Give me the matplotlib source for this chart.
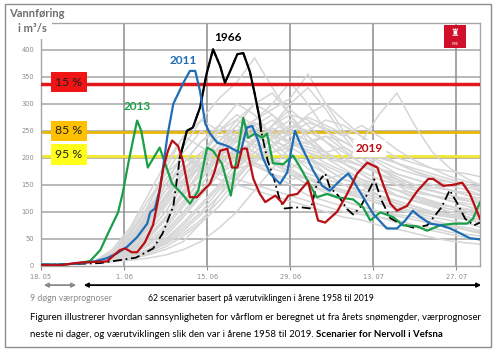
import numpy as np
import matplotlib
matplotlib.use('Agg')
import matplotlib.pyplot as plt
from matplotlib.patches import Rectangle, FancyArrowPatch

# days counted from 18.05
tick_days = [0, 14, 28, 42, 56, 70]
tick_labels = ['18. 05', '1. 06', '15. 06', '29. 06', '13. 07', '27. 07']
y_ticks = [0, 50, 100, 150, 200, 250, 300, 350, 400]

# probability levels
levels = [337, 247, 203]
level_labels = ['15 %', '85 %', '95 %']

# 9 day weather forecast (shared by all scenarios)
fc_days = [0, 3, 6, 9]
fc_vals = [2, 2, 4, 8]

# scenario days and a subset of the grey scenario curves
sc_days = [12, 15, 18, 21, 24, 27, 30, 33, 36, 39, 42, 45, 48, 51, 54, 57, 60, 63, 66, 69, 72, 74]
scenarios = [
    [20, 45, 90, 150, 210, 250, 230, 260, 240, 200, 170, 150, 140, 120, 110, 100, 95, 90, 80, 75, 70, 65],
    [12, 25, 50, 90, 140, 190, 230, 270, 300, 280, 240, 200, 180, 160, 150, 130, 120, 110, 100, 95, 90, 85],
    [30, 70, 130, 190, 240, 220, 200, 180, 190, 170, 150, 130, 120, 110, 100, 90, 85, 75, 70, 62, 58, 55],
    [10, 18, 30, 55, 90, 130, 170, 200, 230, 250, 270, 240, 210, 190, 170, 150, 140, 125, 115, 110, 100, 95],
    [15, 35, 70, 120, 170, 200, 260, 300, 280, 240, 210, 180, 160, 150, 140, 130, 115, 105, 95, 90, 85, 80],
    [8, 12, 20, 30, 45, 80, 130, 180, 220, 260, 300, 330, 290, 240, 200, 170, 150, 130, 120, 110, 100, 90],
    [25, 60, 110, 170, 220, 270, 310, 340, 385, 330, 280, 230, 200, 180, 160, 140, 130, 120, 110, 100, 95, 90],
    [18, 40, 80, 130, 180, 210, 190, 220, 250, 230, 200, 190, 170, 150, 140, 150, 130, 120, 110, 100, 90, 85],
    [10, 15, 25, 40, 60, 85, 120, 160, 200, 240, 260, 250, 230, 210, 190, 180, 170, 160, 150, 140, 130, 120],
    [20, 50, 100, 160, 200, 190, 170, 160, 150, 140, 130, 120, 110, 100, 95, 90, 80, 72, 65, 58, 52, 48],
    [12, 30, 60, 100, 150, 200, 250, 280, 260, 230, 220, 200, 180, 160, 150, 140, 130, 120, 115, 110, 105, 100],
    [15, 30, 55, 90, 130, 170, 200, 230, 260, 280, 250, 230, 210, 220, 200, 180, 160, 140, 130, 120, 110, 105],
    [8, 14, 22, 35, 55, 80, 110, 150, 190, 220, 250, 280, 300, 270, 240, 210, 190, 180, 170, 160, 150, 140],
    [22, 55, 110, 180, 240, 270, 250, 230, 210, 190, 170, 150, 135, 120, 110, 100, 92, 85, 78, 72, 66, 62],
    [10, 20, 40, 70, 110, 150, 190, 210, 230, 250, 230, 210, 200, 190, 230, 280, 320, 260, 210, 180, 160, 150],
    [14, 28, 50, 85, 130, 180, 220, 250, 270, 290, 310, 355, 300, 250, 210, 180, 160, 140, 130, 120, 110, 100],
    [18, 45, 95, 150, 190, 230, 260, 240, 220, 200, 180, 160, 150, 140, 130, 120, 110, 100, 95, 90, 85, 80],
    [9, 16, 28, 45, 70, 100, 140, 170, 200, 210, 220, 230, 240, 230, 210, 190, 170, 160, 150, 140, 130, 125],
    [16, 38, 75, 125, 175, 210, 240, 230, 250, 270, 240, 200, 170, 150, 135, 125, 115, 105, 100, 95, 90, 85],
    [12, 22, 40, 65, 100, 140, 180, 220, 250, 240, 230, 220, 210, 190, 170, 150, 140, 135, 130, 125, 120, 115],
    [20, 48, 95, 140, 170, 190, 200, 210, 200, 190, 175, 160, 145, 135, 125, 115, 105, 95, 85, 75, 65, 60],
    [10, 18, 30, 50, 80, 115, 150, 190, 230, 260, 280, 270, 250, 230, 210, 195, 180, 170, 160, 155, 150, 145],
    [14, 30, 60, 100, 150, 190, 220, 260, 300, 320, 280, 240, 210, 190, 175, 160, 150, 140, 130, 120, 115, 110],
    [25, 65, 120, 170, 200, 180, 160, 150, 140, 130, 120, 110, 100, 90, 85, 75, 68, 60, 52, 46, 42, 40],
    [8, 10, 14, 20, 30, 45, 70, 100, 140, 180, 220, 250, 270, 260, 240, 220, 200, 190, 180, 175, 170, 165],
    [18, 42, 85, 140, 190, 230, 250, 270, 250, 220, 190, 170, 160, 170, 150, 130, 120, 110, 100, 95, 90, 85],
    [11, 24, 45, 75, 115, 160, 200, 240, 270, 300, 340, 300, 250, 220, 200, 180, 165, 150, 140, 130, 120, 115],
    [16, 36, 70, 115, 160, 200, 230, 210, 190, 180, 170, 160, 150, 140, 135, 125, 115, 105, 98, 92, 86, 80],
    [12, 26, 50, 85, 120, 160, 210, 250, 230, 260, 290, 260, 230, 200, 185, 170, 160, 150, 145, 140, 135, 130],
    [20, 44, 85, 130, 160, 180, 170, 190, 210, 195, 180, 200, 185, 170, 155, 140, 130, 120, 112, 105, 100, 95],
    [9, 15, 26, 42, 65, 95, 130, 165, 195, 225, 245, 265, 255, 240, 260, 240, 215, 195, 180, 165, 155, 150],
    [15, 34, 66, 110, 155, 185, 215, 240, 225, 210, 230, 210, 190, 175, 160, 150, 140, 128, 118, 110, 104, 98],
    [11, 20, 36, 60, 95, 135, 175, 205, 235, 255, 240, 225, 240, 215, 190, 170, 155, 145, 138, 130, 124, 118],
    [24, 58, 105, 150, 180, 200, 215, 200, 185, 170, 160, 165, 150, 138, 126, 116, 106, 98, 90, 84, 78, 72],
    [13, 27, 52, 88, 135, 175, 205, 235, 265, 245, 225, 215, 205, 195, 185, 200, 190, 175, 160, 148, 140, 132],
    [10, 17, 30, 48, 75, 110, 145, 180, 210, 235, 255, 275, 260, 245, 225, 205, 190, 175, 165, 155, 145, 138],
]

# highlighted years
y2013_days = [0, 3, 6, 8.3, 10, 11.3, 13, 13.8, 14.7, 15.5, 16.2, 16.9, 18, 20, 22.1, 23.8, 25.1, 26.5, 28, 29,
              30.5, 32, 33, 34.1, 34.9, 36.1, 37.3, 38.1, 39.1, 40.8, 42.5, 43.7, 46.5, 48.2, 49.9, 52.6, 54.3,
              55.5, 57.2, 59.4, 61, 63.4, 65.1, 67.3, 69.5, 71.8, 72.8, 74]
y2013_vals = [2, 2, 4, 9, 29, 60, 99, 136, 189, 232, 269, 250, 182, 219, 152, 133, 115, 139, 219, 213,
              189, 130, 200, 274, 237, 245, 237, 245, 190, 188, 204, 182, 127, 133, 127, 123, 108,
              84, 99, 90, 75, 73, 65, 75, 78, 78, 87, 117]

y2011_days = [0, 3, 6, 9, 11.1, 12.8, 14.5, 16.2, 17.9, 18.4, 19.2, 20.1, 20.9, 21.3, 22.3, 24, 25.1, 26, 26.8,
              27.7, 28.5, 29.7, 31.4, 32.4, 33.6, 34.7, 35.6, 36.6, 37.4, 38.6, 40.3, 41.5, 42.8, 43.7, 45.9,
              47.4, 48.7, 50.4, 51.8, 52.6, 54.3, 56, 58.3, 60, 61.4, 62.7, 63.6, 65.6, 67.3, 69, 70.7, 72.3, 74]
y2011_vals = [2, 2, 4, 8, 14, 23, 35, 53, 78, 99, 106, 145, 208, 240, 300, 339, 361, 361, 324,
              263, 245, 228, 222, 216, 209, 256, 259, 232, 200, 171, 152, 173, 250, 226, 176,
              148, 139, 158, 171, 158, 127, 96, 69, 69, 84, 102, 93, 78, 75, 69, 60, 51, 49]

y2019_days = [0, 3.2, 6.6, 11.1, 13.3, 14.2, 15.3, 16.2, 17.5, 18.9, 19.7, 20.6, 21.4, 22.1, 23.1, 23.9, 25.1,
              26.3, 27.3, 28.5, 29.3, 30.2, 31.4, 32.2, 33.1, 33.9, 34.7, 35.8, 36.9, 37.8, 39.5, 40.8, 41.7,
              43.2, 45, 46.7, 47.9, 49.9, 51.6, 53.3, 55, 56.7, 57.7, 58.9, 60, 61.7, 63.4, 65.3, 66.1, 67.8,
              69.5, 71, 72.3, 74]
y2019_vals = [1, 1, 6, 8, 29, 32, 25, 25, 43, 76, 120, 180, 213, 232, 222, 195, 127,
              127, 139, 152, 176, 213, 217, 182, 182, 217, 217, 161, 133, 118, 130, 115, 130,
              133, 156, 84, 80, 100, 133, 171, 191, 182, 150, 115, 102, 111, 138, 161, 161, 148,
              150, 154, 133, 87]

y1966_days = [0, 5, 10, 16, 18.9, 20.5, 22.3, 23.4, 24.6, 25.6, 26.8, 27.9, 29, 30.2, 31, 31.9, 33.1, 34.1, 35.2,
              36, 36.9, 37.1, 38.2, 39.3, 40.3, 41.1, 42.5, 44.1, 45.5, 46.5, 47.9, 48.7, 50.1, 51.6, 52.6,
              53.8, 55, 56.2, 57.4, 58.9, 60.6, 62.9, 65.1, 67.5, 68.9, 70.2, 71.5, 73, 74]
y1966_vals = [2, 3, 5, 15, 32, 60, 110, 200, 250, 256, 293, 355, 401, 370, 339, 361, 392, 394, 360,
              320, 270, 250, 195, 160, 120, 106, 108, 108, 106, 152, 171, 145, 130, 105, 95,
              108, 133, 160, 121, 88, 78, 70, 75, 108, 140, 115, 87, 75, 80]

fig = plt.figure(figsize=(5, 3.52), dpi=100)
ax = fig.add_axes([0.082, 0.245, 0.878, 0.69])

grid_c = '#a6a6a6'
for yv in y_ticks[1:] + [450]:
    ax.axhline(yv, color=grid_c, lw=1.1, zorder=0)
for xv in tick_days[1:]:
    ax.axvline(xv, color='#8c8c8c', lw=1.1, zorder=0)

# yellow levels sit under the scenario cloud
ax.axhline(levels[1], color='#e8b800', lw=2, zorder=1)
ax.axhline(levels[2], color='#f2e830', lw=2, zorder=1)

for sc in scenarios:
    ax.plot(fc_days + sc_days, fc_vals + sc, color='#d6d6d6', lw=1.1, zorder=2)

ax.axhline(levels[0], color='#e0181c', lw=2.5, zorder=3)

ax.plot(y1966_days, y1966_vals, color='black', lw=1.3, ls=(0, (5, 2, 1, 2)), zorder=4)
ax.plot(y1966_days[7:22], y1966_vals[7:22], color='black', lw=1.6, zorder=4)
ax.plot(y2013_days, y2013_vals, color='#1a9f48', lw=1.6, zorder=5)
ax.plot(y2011_days, y2011_vals, color='#1f6db5', lw=1.6, zorder=5)
ax.plot(y2019_days, y2019_vals, color='#b80f14', lw=1.6, zorder=6)

lab_font = dict(fontsize=8.5, fontweight='bold', family='Lato')
ax.text(31.5, 422, '1966', color='black', ha='center', va='center', **lab_font)
ax.text(24.0, 380, '2011', color='#1f6db5', ha='center', va='center', **lab_font)
ax.text(16.2, 295, '2013', color='#1a9f48', ha='center', va='center', **lab_font)
ax.text(55.3, 217, '2019', color='#b80f14', ha='center', va='center', zorder=7,
        bbox=dict(facecolor='white', edgecolor='none', pad=2), **lab_font)

box_cols = ['#f01414', '#ffc000', '#ffff1a']
for lv, lab, bc in zip(levels, level_labels, box_cols):
    ax.text(4.7, lv + 3, lab, ha='center', va='center', fontsize=8.8, family='Lato', color='#202020',
            zorder=8, bbox=dict(facecolor=bc, edgecolor='none', boxstyle='square,pad=0.38'))

ax.set_xlim(0, 74)
ax.set_ylim(0, 450)
ax.set_xticks(tick_days)
ax.set_xticklabels(tick_labels)
ax.set_yticks(y_ticks)
ax.tick_params(labelsize=4.8, colors='#8a8a8a', length=0, pad=5)
ax.tick_params(axis='x', length=3, color='#8c8c8c', direction='out', pad=3)
for s in ax.spines.values():
    s.set_color('#a6a6a6')
    s.set_linewidth(1)

# title, covers the top grid line
fig.text(0.018, 0.962, 'Vannføring', fontsize=8, fontweight='bold', family='Lato', color='#6e6e6e',
         va='center')
fig.text(0.037, 0.918, 'i m³/s', fontsize=8, fontweight='bold', family='Lato', color='#6e6e6e',
         va='center', bbox=dict(facecolor='white', edgecolor='none', pad=3))

# NVE logo
fig.patches.append(Rectangle((0.888, 0.864), 0.044, 0.065, transform=fig.transFigure,
                             facecolor='#d0102a', edgecolor='none'))
fig.text(0.91, 0.875, 'NVE', fontsize=2.5, color='white', ha='center', va='center')
fig.text(0.91, 0.905, '♜', fontsize=7, color='white', ha='center', va='center')

# outer frame
fig.patches.append(Rectangle((0.009, 0.014), 0.972, 0.976, transform=fig.transFigure,
                             facecolor='none', edgecolor='#8c8c8c', lw=1))

# arrows under the axis
fig.add_artist(FancyArrowPatch((0.082, 0.19), (0.158, 0.19), transform=fig.transFigure,
                               arrowstyle='<|-|>', mutation_scale=6, color='#8a8a8a', lw=1.3))
fig.add_artist(FancyArrowPatch((0.162, 0.19), (0.968, 0.19), transform=fig.transFigure,
                               arrowstyle='<|-|>', mutation_scale=6, color='black', lw=1.3))
fig.text(0.06, 0.153, '9 døgn værprognoser', fontsize=6.2, family='Lato', color='#8a8a8a', va='center')
fig.text(0.296, 0.153, '62 scenarier basert på værutviklingen i årene 1958 til 2019', fontsize=6.2,
         family='Lato', color='black', va='center')

cap_size = 6.9
fig.text(0.06, 0.097, 'Figuren illustrerer hvordan sannsynligheten for vårflom er beregnet ut fra årets '
         'snømengder, værprognoser', fontsize=cap_size, family='Lato', color='black', va='center')
t1 = fig.text(0.06, 0.05, 'neste ni dager, og værutviklingen slik den var i årene 1958 til 2019. ',
              fontsize=cap_size, family='Lato', color='black', va='center')
r = fig.canvas.get_renderer()
bb = t1.get_window_extent(renderer=r)
fig.text(bb.x1 / fig.bbox.width, 0.05, 'Scenarier for Nervoll i Vefsna', fontsize=cap_size, family='Lato',
         fontweight='bold', color='black', va='center')

fig.savefig('out.png', dpi=100)
